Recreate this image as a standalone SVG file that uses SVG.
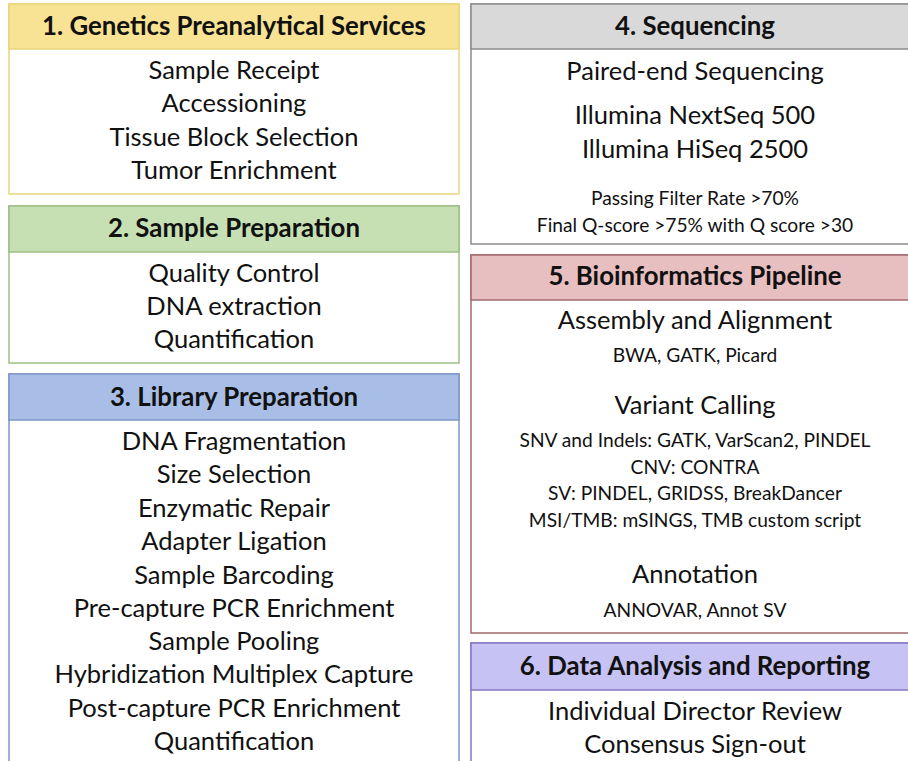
<svg xmlns="http://www.w3.org/2000/svg" width="908" height="761" viewBox="0 0 908 761">
<style>
text{font-family:Lato,"Open Sans","Liberation Sans",sans-serif;fill:#111;text-anchor:middle}
.h{font-size:25.8px;font-weight:bold}
.b{font-size:25.5px}
.s{font-size:19.2px}
.box{fill:#fff;stroke-width:1.5}
.hd{stroke-width:1.5}
</style>
<rect width="908" height="761" fill="#fff"/>
<g id="connectors"/>
<g id="n1">
<rect class="box" x="9" y="4" width="450" height="190" stroke="#e8d67e"/>
<rect class="hd" x="9" y="4" width="450" height="45" fill="#f7e393" stroke="#e8d67e"/>
<text class="h" x="234" y="35">1. Genetics Preanalytical Services</text>
<text class="b" x="234" y="79">Sample Receipt</text>
<text class="b" x="234" y="112">Accessioning</text>
<text class="b" x="234" y="146">Tissue Block Selection</text>
<text class="b" x="234" y="179">Tumor Enrichment</text>
</g>
<g id="n2">
<rect class="box" x="9" y="206" width="450" height="157" stroke="#9fbf86"/>
<rect class="hd" x="9" y="206" width="450" height="46" fill="#c6e0b4" stroke="#9fbf86"/>
<text class="h" x="234" y="237">2. Sample Preparation</text>
<text class="b" x="234" y="282">Quality Control</text>
<text class="b" x="234" y="315">DNA extraction</text>
<text class="b" x="234" y="348">Quantification</text>
</g>
<g id="n3">
<rect class="box" x="9" y="374" width="450" height="400" stroke="#8096c9"/>
<rect class="hd" x="9" y="374" width="450" height="46" fill="#a8bee6" stroke="#8096c9"/>
<text class="h" x="234" y="406">3. Library Preparation</text>
<text class="b" x="234" y="450">DNA Fragmentation</text>
<text class="b" x="234" y="483">Size Selection</text>
<text class="b" x="234" y="517">Enzymatic Repair</text>
<text class="b" x="234" y="550">Adapter Ligation</text>
<text class="b" x="234" y="584">Sample Barcoding</text>
<text class="b" x="234" y="617">Pre-capture PCR Enrichment</text>
<text class="b" x="234" y="650">Sample Pooling</text>
<text class="b" x="234" y="683">Hybridization Multiplex Capture</text>
<text class="b" x="234" y="717">Post-capture PCR Enrichment</text>
<text class="b" x="234" y="750">Quantification</text>
</g>
<g id="n4">
<rect class="box" x="471" y="4" width="448" height="240" stroke="#8c8c8c"/>
<rect class="hd" x="471" y="4" width="448" height="45" fill="#d9d9d9" stroke="#8c8c8c"/>
<text class="h" x="695" y="35">4. Sequencing</text>
<text class="b" x="695" y="80">Paired-end Sequencing</text>
<text class="b" x="695" y="124">Illumina NextSeq 500</text>
<text class="b" x="695" y="158">Illumina HiSeq 2500</text>
<text class="s" x="695" y="205">Passing Filter Rate &gt;70%</text>
<text class="s" x="695" y="232">Final Q-score &gt;75% with Q score &gt;30</text>
</g>
<g id="n5">
<rect class="box" x="471" y="255" width="448" height="378" stroke="#a36a6e"/>
<rect class="hd" x="471" y="255" width="448" height="45" fill="#e8bfc0" stroke="#a36a6e"/>
<text class="h" x="695" y="285">5. Bioinformatics Pipeline</text>
<text class="b" x="695" y="329">Assembly and Alignment</text>
<text class="s" x="695" y="362">BWA, GATK, Picard</text>
<text class="b" x="695" y="414">Variant Calling</text>
<text class="s" x="695" y="447">SNV and Indels: GATK, VarScan2, PINDEL</text>
<text class="s" x="695" y="474">CNV: CONTRA</text>
<text class="s" x="695" y="500">SV: PINDEL, GRIDSS, BreakDancer</text>
<text class="s" x="695" y="527">MSI/TMB: mSINGS, TMB custom script</text>
<text class="b" x="695" y="583">Annotation</text>
<text class="s" x="695" y="617">ANNOVAR, Annot SV</text>
</g>
<g id="n6">
<rect class="box" x="471" y="643" width="448" height="130" stroke="#8677c6"/>
<rect class="hd" x="471" y="643" width="448" height="47" fill="#c6c2f3" stroke="#8677c6"/>
<text class="h" x="695" y="675">6. Data Analysis and Reporting</text>
<text class="b" x="695" y="720">Individual Director Review</text>
<text class="b" x="695" y="753">Consensus Sign-out</text>
</g>
</svg>
